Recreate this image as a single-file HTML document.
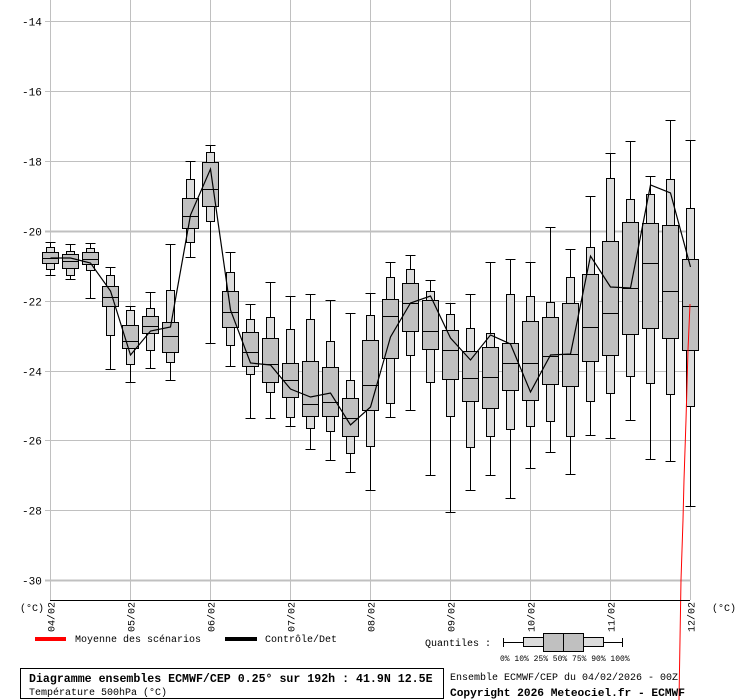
<!DOCTYPE html>
<html><head><meta charset="utf-8"><style>
body{margin:0;background:#fff;width:740px;height:700px;overflow:hidden}
svg{display:block}
text{font-family:"Liberation Mono",monospace;fill:#000}
</style></head><body>
<svg id="s" width="740" height="700" viewBox="0 0 740 700" xmlns="http://www.w3.org/2000/svg">
<g id="grid" stroke="#c0c0c0" stroke-width="1"></g>
<g id="boxes" stroke="#000" stroke-width="1"></g>
<polyline id="ctl" fill="none" stroke="#000" stroke-width="1.2"/>
<polyline points="690,304 688,350 686,420 684,480 683,520 681,580 679,700" fill="none" stroke="#f00" stroke-width="1"/>
<line x1="50" y1="600.5" x2="690" y2="600.5" stroke="#000" stroke-width="1"/>
<g id="lbl" font-size="11"></g>
<text x="20" y="611" font-size="10">(°C)</text>
<text x="712" y="611" font-size="10">(°C)</text>
<rect x="35" y="637" width="31" height="4" fill="#f00"/>
<text x="75" y="642" font-size="10">Moyenne des scénarios</text>
<rect x="225" y="637" width="32" height="4" fill="#000"/>
<text x="265" y="642" font-size="10">Contrôle/Det</text>
<text x="425" y="646" font-size="10">Quantiles :</text>
<g stroke="#000" stroke-width="1">
<line x1="503" y1="642.5" x2="623" y2="642.5"/><line x1="503.5" y1="638" x2="503.5" y2="647"/><line x1="622.5" y1="638" x2="622.5" y2="647"/>
<rect x="523.5" y="637.5" width="80" height="9" fill="#dcdcdc"/>
<rect x="543.5" y="633.5" width="40" height="18" fill="#c0c0c0"/>
<line x1="563.5" y1="633" x2="563.5" y2="652"/>
</g>
<text x="500" y="661" font-size="8">0%  10% 25% 50% 75% 90% 100%</text>
<rect x="20.5" y="668.5" width="423" height="30" fill="none" stroke="#000"/>
<text x="29" y="682" font-size="11.6" font-weight="bold">Diagramme ensembles ECMWF/CEP 0.25° sur 192h : 41.9N 12.5E</text>
<text x="29" y="695" font-size="10">Température 500hPa (°C)</text>
<text x="450" y="680" font-size="10">Ensemble ECMWF/CEP du 04/02/2026 - 00Z</text>
<text x="450" y="696" font-size="11.2" font-weight="bold">Copyright 2026 Meteociel.fr - ECMWF</text>
</svg>
<script>
var NS="http://www.w3.org/2000/svg";
function el(p,t,a,txt){var e=document.createElementNS(NS,t);for(var k in a)e.setAttribute(k,a[k]);if(txt!=null)e.textContent=txt;p.appendChild(e);return e;}
var g=document.getElementById('grid'),b=document.getElementById('boxes'),L=document.getElementById('lbl');
for(var i=0;i<9;i++){var yy=Math.round(22+i*69.9)-0.5;
 var w=(i==3||i==8)?2:1;
 el(g,'line',{x1:45,y1:yy,x2:690,y2:yy,'stroke-width':w});
 el(L,'text',{x:22,y:yy+4},String(-14-2*i));}
var dates=['04/02','05/02','06/02','07/02','08/02','09/02','10/02','11/02','12/02'];
for(var i=0;i<9;i++){var x=50+80*i+0.5;el(g,'line',{x1:x,y1:0,x2:x,y2:600});
 el(L,'text',{x:0,y:0,transform:'translate('+(x+4)+',632) rotate(-90)','font-size':10},dates[i]);}
var D=[
[242,247,252,258,263,269,275,258],[244,251,254,261,268,275,279,258],[243,248,252,259,264,270,298,263],
[267,275,286,297,306,335,369,291],[306,310,325,341,348,364,382,355],[292,308,316,326,333,350,368,331],
[244,290,322,336,352,362,380,327],[161,179,198,216,228,242,257,215],[145,152,162,189,206,221,343,169],
[252,272,291,312,327,345,366,310],[304,319,332,352,366,374,418,363],[282,317,338,364,382,392,418,365],
[296,329,363,380,397,417,426,389],[294,319,361,404,416,428,449,397],[300,341,367,402,416,431,460,393],
[313,380,398,418,436,453,472,425],[293,315,340,385,410,446,490,407],[262,277,299,316,358,403,417,337],
[255,269,283,303,331,355,410,303],[280,291,300,331,349,382,475,296],[303,314,330,350,379,416,512,338],
[294,328,351,378,401,447,490,360],[262,333,347,377,408,436,475,335],[259,294,343,363,390,429,498,344],
[262,296,321,363,400,426,468,392],[227,302,317,356,384,421,452,355],[249,277,303,354,386,436,474,354],
[196,247,274,327,361,401,435,256],[153,178,241,313,355,393,438,287],[141,199,222,288,334,376,420,288],
[176,194,223,263,328,383,459,185],[120,179,225,291,338,394,461,193],[140,208,259,306,350,406,506,267]];
var pts=[];
D.forEach(function(d,k){var x=50+20*k+0.5;
 el(b,'line',{x1:x,y1:d[0],x2:x,y2:d[6]});
 el(b,'line',{x1:x-5,y1:d[0]+.5,x2:x+5,y2:d[0]+.5});
 el(b,'line',{x1:x-5,y1:d[6]+.5,x2:x+5,y2:d[6]+.5});
 el(b,'rect',{x:x-4,y:d[1]+.5,width:8,height:d[5]-d[1],fill:'#dcdcdc'});
 el(b,'rect',{x:x-8,y:d[2]+.5,width:16,height:d[4]-d[2],fill:'#c0c0c0'});
 el(b,'line',{x1:x-8,y1:d[3]+.5,x2:x+8,y2:d[3]+.5});
 pts.push((x)+','+d[7]);});
document.getElementById('ctl').setAttribute('points',pts.join(' '));
</script>
</body></html>
